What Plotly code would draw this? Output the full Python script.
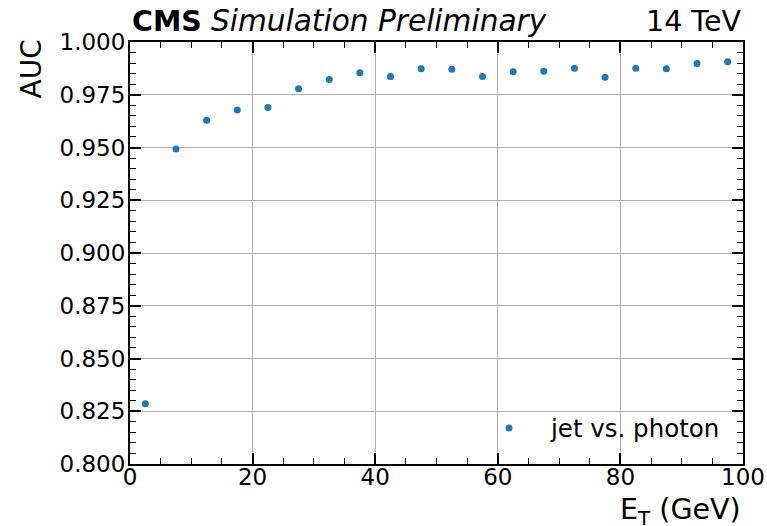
import plotly.graph_objects as go

et_centers = [2.5, 7.5, 12.5, 17.5, 22.5, 27.5, 32.5, 37.5, 42.5, 47.5,
              52.5, 57.5, 62.5, 67.5, 72.5, 77.5, 82.5, 87.5, 92.5, 97.5]
auc_values = [0.8286, 0.9493, 0.9629, 0.9678, 0.9689, 0.9779, 0.9822, 0.9854, 0.9836, 0.9873,
              0.9871, 0.9836, 0.9859, 0.9861, 0.9876, 0.9833, 0.9876, 0.9873, 0.9898, 0.9906]
series_name = "jet vs. photon"
x_range = [0, 100]
y_range = [0.800, 1.000]

FONT = "DejaVu Sans"

fig = go.Figure()
fig.add_trace(go.Scatter(
    x=et_centers, y=auc_values, mode="markers", name=series_name,
    marker=dict(color="#1f77b4", size=7),
))

axis_common = dict(
    showline=True, linecolor="black", linewidth=2, mirror="ticks",
    ticks="inside", ticklen=11, tickwidth=1.5, tickcolor="black",
    showgrid=True, gridcolor="#b0b0b0", gridwidth=1, zeroline=False,
    automargin=False,
    tickfont=dict(family=FONT, size=23, color="black"),
)

fig.update_xaxes(range=x_range, dtick=20, tick0=0,
                 minor=dict(ticks="inside", ticklen=6, tickwidth=1.2, tickcolor="black", dtick=5, showgrid=False),
                 ticklabelstandoff=-9, **axis_common)
fig.update_yaxes(range=y_range, dtick=0.025, tick0=0.8, tickformat=".3f",
                 minor=dict(ticks="inside", ticklen=6, tickwidth=1.2, tickcolor="black", dtick=0.005, showgrid=False),
                 ticklabelstandoff=-2, **axis_common)

# white backdrop for legend area (covers gridlines, below points and ticks)
fig.add_shape(type="rect", xref="paper", yref="paper",
              x0=(473 - 130) / 613, x1=1, y0=0, y1=(464 - 408) / 422,
              fillcolor="white", line=dict(width=0), layer="between")

fig.update_layout(
    width=767, height=526,
    margin=dict(l=130, r=24, t=42, b=62, autoexpand=False),
    paper_bgcolor="white", plot_bgcolor="white",
    font=dict(family=FONT, color="black"),
    showlegend=True,
    legend=dict(x=(467 - 130) / 613, xanchor="left", y=(464 - 428) / 422, yanchor="middle",
                bgcolor="rgba(0,0,0,0)", font=dict(family=FONT, size=24.5, color="black"),
                itemwidth=74),
    annotations=[
        dict(text="<b>CMS</b> <i><span style='font-size:29.6px'>Simulation Preliminary</span></i>",
             xref="paper", yref="paper",
             x=0, y=1, xanchor="left", yanchor="bottom", yshift=2, showarrow=False,
             font=dict(family=FONT, size=28.5, color="black")),
        dict(text="14 TeV", xref="paper", yref="paper",
             x=1, y=1, xanchor="right", yanchor="bottom", yshift=2, showarrow=False,
             font=dict(family=FONT, size=28.5, color="black")),
        dict(text="AUC", xref="paper", yref="paper", textangle=-90,
             x=(31 - 130) / 613, xanchor="center", y=1, yanchor="top", yshift=4, showarrow=False,
             font=dict(family=FONT, size=28, color="black")),
        dict(text="E<sub>T</sub> (GeV)", xref="paper", yref="paper",
             x=1, xanchor="right", y=(464 - 492) / 422, yanchor="top", yshift=1, showarrow=False,
             font=dict(family=FONT, size=28.5, color="black")),
    ],
)

fig.write_html("out.html")
